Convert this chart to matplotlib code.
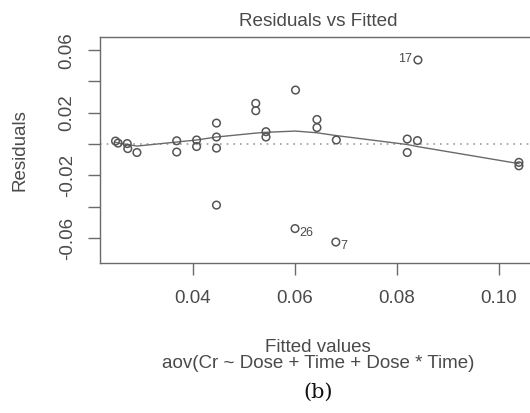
import matplotlib
matplotlib.use("Agg")
import matplotlib.pyplot as plt

plt.rcParams['font.family'] = ['Liberation Sans', 'DejaVu Sans']

# Fitted values and residuals
fitted = [0.0248, 0.0253, 0.0271, 0.0272, 0.0290, 0.0368, 0.0368, 0.0407, 0.0407,
          0.0446, 0.0446, 0.0446, 0.0446, 0.0523, 0.0523, 0.0543, 0.0543, 0.0601,
          0.0600, 0.0643, 0.0643, 0.0681, 0.0680, 0.0820, 0.0820, 0.0840, 0.0841,
          0.1039, 0.1039]
residuals = [0.0019, 0.0006, 0.0003, -0.0029, -0.0054, 0.0021, -0.0051, 0.0026, -0.0016,
             0.0134, 0.0045, -0.0026, -0.0390, 0.0260, 0.0213, 0.0079, 0.0045, 0.0345,
             -0.0540, 0.0157, 0.0105, 0.0026, -0.0626, 0.0032, -0.0054, 0.0022, 0.0537,
             -0.0117, -0.0139]

# Smoother (lowess) curve
smooth_x = [0.0248, 0.0271, 0.0290, 0.0368, 0.0407, 0.0446, 0.0523, 0.0543, 0.0601,
            0.0643, 0.0681, 0.0820, 0.0840, 0.1039]
smooth_y = [0.0010, -0.0003, -0.0013, 0.0013, 0.0026, 0.0045, 0.0070, 0.0075, 0.0083,
            0.0072, 0.0054, -0.0003, -0.0016, -0.0125]

# Labelled outliers: (label, index into arrays, side)
outliers = [("17", 26, "left"), ("26", 18, "right"), ("7", 22, "right")]

xticks = [0.04, 0.06, 0.08, 0.10]
yticks = [-0.06, -0.04, -0.02, 0.00, 0.02, 0.04, 0.06]
ytick_labels = ["-0.06", "", "-0.02", "", "0.02", "", "0.06"]

TXT = "#4a4a4a"
AX = "#6a6a6a"

W, H = 530, 413
fig = plt.figure(figsize=(W / 100, H / 100), dpi=100)
ax = fig.add_axes([100 / W, (H - 263) / H, 436 / W, 226 / H])

ax.axhline(0, color="#9a9a9a", linestyle=(0, (1, 3)), linewidth=1.2, zorder=1)
ax.plot(smooth_x, smooth_y, color="#6a6a6a", linewidth=1.0, zorder=2)
ax.scatter(fitted, residuals, s=30, facecolors="none", edgecolors="#555555",
           linewidths=1.1, zorder=3)

for lab, i, side in outliers:
    if side == "left":
        ax.annotate(lab, (fitted[i], residuals[i]), xytext=(-4, 1), textcoords="offset points",
                    ha="right", va="center", fontsize=9, color=TXT)
    else:
        ax.annotate(lab, (fitted[i], residuals[i]), xytext=(3, -3), textcoords="offset points",
                    ha="left", va="center", fontsize=9, color=TXT)

ax.set_xlim(0.02176, 0.10725)
ax.set_ylim(-0.0760, 0.0684)

ax.set_xticks(xticks)
ax.set_xticklabels([f"{v:.2f}" for v in xticks])
ax.set_yticks(yticks)
ax.set_yticklabels(ytick_labels, rotation=90, va="center")

ax.tick_params(axis="both", direction="out", length=8.5, width=1.0, color=AX,
               labelcolor=TXT, labelsize=13.5)
ax.tick_params(axis="x", pad=11)
ax.tick_params(axis="y", pad=9)
for sp in ax.spines.values():
    sp.set_color(AX)
    sp.set_linewidth(1.0)

cx = 318 / W
fig.text(cx, 1 - 22 / H, "Residuals vs Fitted", ha="center", va="center",
         fontsize=13.6, color=TXT)
fig.text(20 / W, 1 - 150 / H, "Residuals", ha="center", va="center", rotation=90,
         fontsize=13.5, color=TXT)
fig.text(cx, 1 - 347 / H, "Fitted values", ha="center", va="center", fontsize=13.5, color=TXT)
fig.text(cx, 1 - 363 / H, "aov(Cr ~ Dose + Time + Dose * Time)", ha="center", va="center",
         fontsize=13.5, color=TXT)
fig.text(cx, 1 - 392 / H, "(b)", ha="center", va="center", fontsize=15, color="#111111",
         family=["DejaVu Serif"])

fig.savefig("out.png", dpi=100)
